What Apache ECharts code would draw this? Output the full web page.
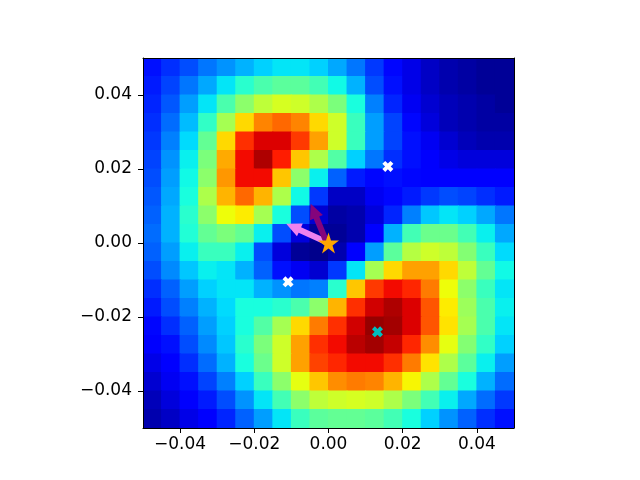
<!DOCTYPE html>
<html>
<head>
<meta charset="utf-8">
<script src="https://cdn.jsdelivr.net/npm/echarts@6/dist/echarts.min.js"></script>
<style>
  html, body { margin: 0; padding: 0; background: #fff; }
  #main { width: 640px; height: 480px; }
</style>
</head>
<body>
<div id="main"></div>
<script>
// cell centres of the sampled field (data units), left -> right and bottom -> top
const xCenters = [-0.0475, -0.0425, -0.0375, -0.0325, -0.0275, -0.0225, -0.0175, -0.0125, -0.0075, -0.0025,
  0.0025, 0.0075, 0.0125, 0.0175, 0.0225, 0.0275, 0.0325, 0.0375, 0.0425, 0.0475];
const yCenters = xCenters.slice();
const cellHalf = 0.0025;

// field values, top row first (0 = dark blue, 1 = dark red)
const heatRows = [
  [0.14, 0.17, 0.20, 0.24, 0.27, 0.30, 0.33, 0.35, 0.35, 0.33, 0.29, 0.24, 0.18, 0.13, 0.09, 0.06, 0.04, 0.03, 0.02, 0.02],
  [0.15, 0.19, 0.24, 0.29, 0.35, 0.40, 0.44, 0.46, 0.46, 0.43, 0.37, 0.30, 0.20, 0.14, 0.09, 0.06, 0.04, 0.03, 0.02, 0.02],
  [0.16, 0.21, 0.28, 0.35, 0.44, 0.52, 0.58, 0.61, 0.60, 0.56, 0.50, 0.38, 0.25, 0.16, 0.10, 0.07, 0.05, 0.04, 0.03, 0.02],
  [0.17, 0.23, 0.31, 0.41, 0.55, 0.68, 0.77, 0.80, 0.77, 0.68, 0.60, 0.42, 0.28, 0.19, 0.13, 0.08, 0.05, 0.04, 0.03, 0.03],
  [0.18, 0.25, 0.34, 0.47, 0.68, 0.86, 0.92, 0.92, 0.85, 0.74, 0.60, 0.42, 0.28, 0.19, 0.14, 0.10, 0.07, 0.05, 0.04, 0.04],
  [0.19, 0.27, 0.36, 0.50, 0.73, 0.90, 0.96, 0.88, 0.70, 0.56, 0.45, 0.33, 0.24, 0.17, 0.14, 0.11, 0.09, 0.08, 0.08, 0.08],
  [0.20, 0.28, 0.37, 0.52, 0.75, 0.90, 0.90, 0.70, 0.52, 0.36, 0.22, 0.15, 0.13, 0.14, 0.13, 0.12, 0.12, 0.12, 0.12, 0.12],
  [0.21, 0.29, 0.38, 0.56, 0.72, 0.80, 0.72, 0.56, 0.37, 0.18, 0.06, 0.06, 0.10, 0.13, 0.15, 0.18, 0.20, 0.19, 0.17, 0.15],
  [0.22, 0.30, 0.40, 0.52, 0.64, 0.66, 0.55, 0.38, 0.20, 0.07, 0.03, 0.04, 0.08, 0.16, 0.25, 0.32, 0.35, 0.33, 0.29, 0.24],
  [0.23, 0.30, 0.39, 0.47, 0.50, 0.47, 0.36, 0.20, 0.08, 0.02, 0.02, 0.04, 0.12, 0.30, 0.43, 0.48, 0.48, 0.43, 0.36, 0.29],
  [0.22, 0.28, 0.36, 0.42, 0.42, 0.36, 0.20, 0.08, 0.02, 0.01, 0.04, 0.12, 0.28, 0.46, 0.57, 0.60, 0.58, 0.51, 0.42, 0.34],
  [0.20, 0.26, 0.32, 0.36, 0.35, 0.30, 0.22, 0.14, 0.10, 0.07, 0.18, 0.35, 0.55, 0.68, 0.74, 0.74, 0.68, 0.58, 0.47, 0.37],
  [0.17, 0.22, 0.28, 0.33, 0.35, 0.35, 0.30, 0.27, 0.24, 0.25, 0.40, 0.70, 0.85, 0.90, 0.87, 0.78, 0.64, 0.52, 0.42, 0.35],
  [0.15, 0.20, 0.25, 0.30, 0.34, 0.38, 0.38, 0.40, 0.44, 0.52, 0.72, 0.86, 0.93, 0.96, 0.92, 0.82, 0.66, 0.54, 0.44, 0.36],
  [0.13, 0.17, 0.22, 0.28, 0.33, 0.38, 0.45, 0.55, 0.68, 0.78, 0.86, 0.93, 0.98, 0.97, 0.92, 0.82, 0.67, 0.55, 0.44, 0.35],
  [0.11, 0.14, 0.20, 0.26, 0.32, 0.40, 0.50, 0.60, 0.74, 0.86, 0.90, 0.95, 0.97, 0.94, 0.87, 0.76, 0.63, 0.51, 0.41, 0.33],
  [0.09, 0.12, 0.17, 0.23, 0.30, 0.38, 0.48, 0.60, 0.74, 0.84, 0.87, 0.90, 0.90, 0.86, 0.78, 0.67, 0.56, 0.46, 0.36, 0.28],
  [0.07, 0.10, 0.14, 0.19, 0.25, 0.33, 0.42, 0.52, 0.63, 0.70, 0.76, 0.78, 0.77, 0.72, 0.65, 0.56, 0.47, 0.38, 0.30, 0.23],
  [0.05, 0.08, 0.11, 0.15, 0.20, 0.27, 0.35, 0.43, 0.52, 0.58, 0.60, 0.61, 0.60, 0.56, 0.50, 0.43, 0.36, 0.29, 0.23, 0.18],
  [0.04, 0.06, 0.09, 0.12, 0.16, 0.22, 0.28, 0.35, 0.42, 0.46, 0.47, 0.47, 0.46, 0.43, 0.38, 0.33, 0.27, 0.22, 0.17, 0.14]
];

const tickValues = [-0.04, -0.02, 0, 0.02, 0.04];

// markers
const saddlePoints = [[0.0160, 0.0207], [-0.0109, -0.0105]];
const peakPoint = [0.0132, -0.0240];
const startPoint = [0.0, 0.0];
// arrows: [x0, y0, x1, y1]
const pinkArrow = [0.0, 0.0, -0.0114, 0.0052];
const purpleArrow = [-0.0006, 0.0004, -0.0048, 0.0106];

// matplotlib 'jet' colormap
function jet(t) {
  const seg = (pts) => {
    for (let k = 1; k < pts.length; k++) {
      if (t <= pts[k][0]) {
        const a = pts[k - 1], b = pts[k];
        return a[1] + (b[1] - a[1]) * (t - a[0]) / (b[0] - a[0]);
      }
    }
    return pts[pts.length - 1][1];
  };
  const r = seg([[0, 0], [0.35, 0], [0.66, 1], [0.89, 1], [1, 0.5]]);
  const g = seg([[0, 0], [0.125, 0], [0.375, 1], [0.64, 1], [0.91, 0], [1, 0]]);
  const b = seg([[0, 0.5], [0.11, 1], [0.34, 1], [0.65, 0], [1, 0]]);
  return 'rgb(' + Math.round(r * 255) + ',' + Math.round(g * 255) + ',' + Math.round(b * 255) + ')';
}
const jetColors = [];
for (let k = 0; k <= 64; k++) jetColors.push(jet(k / 64));

const heatData = [];
heatRows.forEach((row, r) => {
  row.forEach((v, c) => {
    heatData.push([xCenters[c], yCenters[heatRows.length - 1 - r], v]);
  });
});

const fmt = (v) => {
  const s = Math.abs(v).toFixed(2);
  return v < -1e-9 ? '\u2212' + s : s;
};

const xMark = 'path://M0,2.6 L2.6,0 L5,2.4 L7.4,0 L10,2.6 L7.6,5 L10,7.4 L7.4,10 L5,7.6 L2.6,10 L0,7.4 L2.4,5 Z';
const starMark = 'path://M50,0 L61.2,34.5 L97.6,34.5 L68.2,55.9 L79.4,90.5 L50,69.1 L20.6,90.5 L31.8,55.9 L2.4,34.5 L38.8,34.5 Z';

const labelFont = { color: '#000', fontSize: 17, fontFamily: 'DejaVu Sans' };
const frameLine = { show: true, onZero: false, lineStyle: { color: '#000', width: 1 } };

const chart = echarts.init(document.getElementById('main'), null, { renderer: 'canvas' });

function renderCell(params, api) {
  const x = api.value(0), y = api.value(1);
  const a = api.coord([x - cellHalf, y + cellHalf]);
  const b = api.coord([x + cellHalf, y - cellHalf]);
  return {
    type: 'rect',
    shape: { x: a[0] - 0.5, y: a[1] - 0.5, width: b[0] - a[0] + 1, height: b[1] - a[1] + 1 },
    style: { fill: api.visual('color') }
  };
}

function renderArrow(params, api) {
  const p0 = api.coord([api.value(0), api.value(1)]);
  const p1 = api.coord([api.value(2), api.value(3)]);
  const dx = p1[0] - p0[0], dy = p1[1] - p0[1];
  const len = Math.sqrt(dx * dx + dy * dy);
  const ux = dx / len, uy = dy / len;
  const nx = -uy, ny = ux;
  const w = 3, hw = 7, hl = 15;
  const bx = p1[0] - ux * hl, by = p1[1] - uy * hl;
  const pts = [
    [p0[0] + nx * w, p0[1] + ny * w],
    [bx + nx * w, by + ny * w],
    [bx + nx * hw, by + ny * hw],
    [p1[0], p1[1]],
    [bx - nx * hw, by - ny * hw],
    [bx - nx * w, by - ny * w],
    [p0[0] - nx * w, p0[1] - ny * w]
  ];
  return { type: 'polygon', shape: { points: pts }, style: { fill: api.visual('color') } };
}

chart.setOption({
  animation: false,
  grid: { left: 143, top: 58, width: 371, height: 370 },
  visualMap: {
    show: false, type: 'continuous', min: 0, max: 1, dimension: 2, seriesIndex: 0,
    inRange: { color: jetColors }
  },
  xAxis: [
    {
      type: 'value', position: 'bottom', min: -0.05, max: 0.05, z: 5,
      axisLine: frameLine,
      axisTick: { show: true, length: 5, customValues: tickValues, lineStyle: { color: '#000' } },
      axisLabel: Object.assign({ customValues: tickValues, formatter: fmt, margin: 8 }, labelFont),
      splitLine: { show: false }
    },
    {
      type: 'value', position: 'top', min: -0.05, max: 0.05, z: 5,
      axisLine: frameLine, axisTick: { show: false }, axisLabel: { show: false }, splitLine: { show: false }
    }
  ],
  yAxis: [
    {
      type: 'value', position: 'left', min: -0.05, max: 0.05, z: 5,
      axisLine: frameLine,
      axisTick: { show: true, length: 5, customValues: tickValues, lineStyle: { color: '#000' } },
      axisLabel: Object.assign({ customValues: tickValues, formatter: fmt, margin: 11 }, labelFont),
      splitLine: { show: false }
    },
    {
      type: 'value', position: 'right', min: -0.05, max: 0.05, z: 5,
      axisLine: frameLine, axisTick: { show: false }, axisLabel: { show: false }, splitLine: { show: false }
    }
  ],
  series: [
    {
      type: 'custom', renderItem: renderCell, data: heatData,
      encode: { x: 0, y: 1 }, silent: true, clip: true
    },
    {
      type: 'scatter', data: saddlePoints,
      symbol: xMark, symbolSize: 11, itemStyle: { color: '#ffffff', opacity: 1 }, silent: true
    },
    {
      type: 'scatter', data: [peakPoint],
      symbol: xMark, symbolSize: 11, itemStyle: { color: '#00bfbf', opacity: 1 }, silent: true
    },
    {
      type: 'custom', renderItem: renderArrow,
      encode: { x: [0, 2], y: [1, 3] }, silent: true,
      data: [
        { value: pinkArrow, itemStyle: { color: '#ee82ee' } },
        { value: purpleArrow, itemStyle: { color: '#84047c' } }
      ]
    },
    {
      type: 'scatter', data: [startPoint],
      symbol: starMark, symbolSize: 21, itemStyle: { color: '#ffa500', opacity: 1 }, silent: true
    }
  ]
});
</script>
</body>
</html>
